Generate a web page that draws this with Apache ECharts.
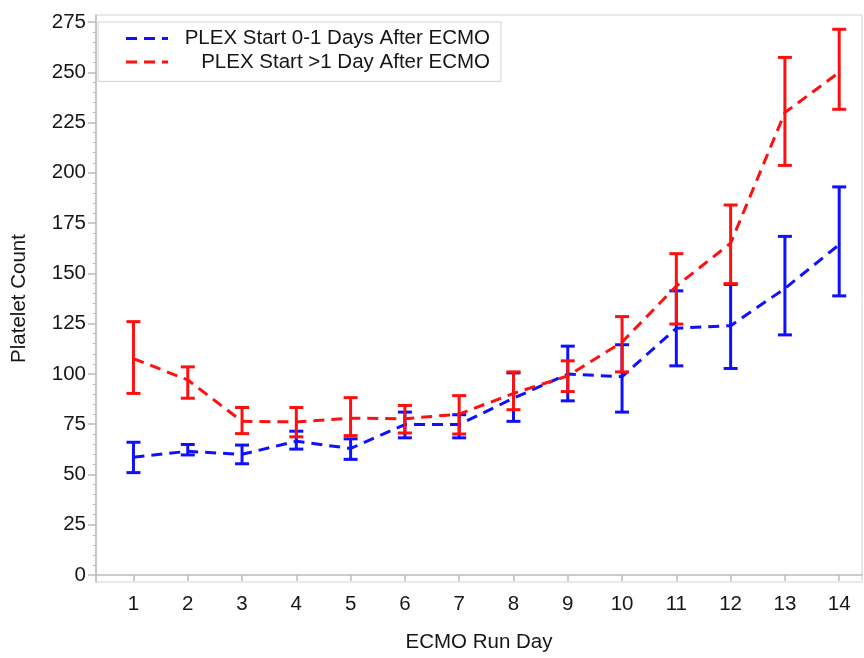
<!DOCTYPE html>
<html>
<head>
<meta charset="utf-8">
<script src="https://cdn.jsdelivr.net/npm/echarts@6/dist/echarts.min.js"></script>
<style>html,body{margin:0;padding:0;background:#fff}#c{width:864px;height:658px}</style>
</head>
<body>
<div id="c"></div>
<script>
var days = [1,2,3,4,5,6,7,8,9,10,11,12,13,14];
var seriesNames = ['PLEX Start 0-1 Days After ECMO', 'PLEX Start >1 Day After ECMO'];
var blueMean = [58.6, 61.5, 60, 66.5, 62.9, 74.8, 74.8, 87.9, 99.9, 98.6, 122.7, 124, 142.5, 164.3];
var blueLow  = [50.9, 59.7, 55.3, 62.6, 57.5, 68.2, 68.2, 76.4, 86.6, 81, 104, 102.7, 119.4, 138.8];
var blueHigh = [66, 64.9, 64.6, 71.5, 67.7, 81, 79.7, 100.5, 113.8, 114.5, 141.3, 144.5, 168.4, 193];
var redMean = [107.6, 97, 76.4, 76.1, 78, 77.7, 80, 90.3, 99, 115.8, 143.7, 165, 230, 250];
var redLow  = [90.3, 87.9, 70.3, 68.7, 69.3, 70.6, 70.1, 82.2, 91.2, 101, 124.8, 144.9, 203.7, 231.6];
var redHigh = [126, 103.5, 83.3, 83.3, 88.2, 84.3, 89.2, 101, 106.5, 128.5, 159.8, 184, 257.4, 271.4];
var yTicks = [0,25,50,75,100,125,150,175,200,225,250,275];
var yMinorTicks = [];
for (var v = 5; v < 280; v += 5) { if (v % 25 !== 0) yMinorTicks.push(v); }

var FONT = 'Liberation Sans, Arial, sans-serif';
var TXT = '#161616';
var BLUE = '#1010ff', RED = '#ff1010';
var AXIS = '#b8bcc2';
var DASH_ICON = 'path://M0,0h11v3h-11z M18,0h11v3h-11z M36,0h6v3h-6z';

function lineData(means){ return days.map(function(d,i){ return [d, means[i]]; }); }
function errData(lo, hi){ return days.map(function(d,i){ return [d, lo[i], hi[i]]; }); }
function errRender(color){
  return function(params, api){
    var x = api.value(0);
    var p1 = api.coord([x, api.value(1)]);
    var p2 = api.coord([x, api.value(2)]);
    var hw = 7;
    var st = {stroke: color, lineWidth: 3};
    return {type:'group', children:[
      {type:'line', shape:{x1:p1[0], y1:p1[1], x2:p2[0], y2:p2[1]}, style:st},
      {type:'line', shape:{x1:p1[0]-hw, y1:p1[1], x2:p1[0]+hw, y2:p1[1]}, style:st},
      {type:'line', shape:{x1:p2[0]-hw, y1:p2[1], x2:p2[0]+hw, y2:p2[1]}, style:st}
    ]};
  };
}

var chart = echarts.init(document.getElementById('c'), null, {renderer:'canvas'});
chart.setOption({
  animation:false,
  backgroundColor:'#fff',
  textStyle:{fontFamily:FONT},
  grid:{left:96, top:15, right:2, bottom:71, show:true, borderColor:'#cfd2d6', borderWidth:1},
  legend:{
    orient:'vertical', left:98, top:22,
    data:[{name:seriesNames[0], icon:DASH_ICON, itemStyle:{color:BLUE}},
          {name:seriesNames[1], icon:DASH_ICON, itemStyle:{color:RED}}],
    itemWidth:42, itemHeight:3, itemGap:0.4,
    padding:[5,11,8,28],
    borderColor:'#cfd2d6', borderWidth:1,
    formatter:function(n){ return '{r|' + n + '}'; },
    textStyle:{fontFamily:FONT, fontSize:20.5, color:TXT,
      rich:{r:{fontFamily:FONT, fontSize:20.5, color:TXT, width:317, height:23, align:'right', lineHeight:23}}}
  },
  xAxis:{
    type:'value', min:0.31, max:14.42,
    name:'ECMO Run Day', nameLocation:'middle', nameGap:50,
    nameTextStyle:{fontFamily:FONT, fontSize:20.5, color:TXT},
    axisLine:{show:true, lineStyle:{color:AXIS, width:1.5}},
    axisTick:{show:true, length:6, lineStyle:{color:AXIS, width:1.5}, customValues:days},
    axisLabel:{fontFamily:FONT, fontSize:20.5, color:TXT, margin:12, customValues:days},
    splitLine:{show:false}
  },
  yAxis:[{
    type:'value', min:-3.5, max:278.5,
    name:'Platelet Count', nameLocation:'middle', nameGap:66,
    nameTextStyle:{fontFamily:FONT, fontSize:20.5, color:TXT},
    axisLine:{show:true, lineStyle:{color:AXIS, width:1.5}},
    axisTick:{show:true, length:8, lineStyle:{color:AXIS, width:1.5}, customValues:yTicks},
    axisLabel:{fontFamily:FONT, fontSize:20.5, color:TXT, margin:10, customValues:yTicks},
    splitLine:{show:false}
  },{
    type:'value', min:-3.5, max:278.5, position:'left',
    axisLine:{show:false},
    axisTick:{show:true, length:3, lineStyle:{color:AXIS, width:1}, customValues:yMinorTicks},
    axisLabel:{show:false},
    splitLine:{show:false}
  }],
  series:[
    {name:seriesNames[0], type:'line', data:lineData(blueMean), symbol:'none', color:BLUE,
     lineStyle:{color:BLUE, width:3, type:[11,7]}, z:2},
    {name:seriesNames[0]+' err', type:'custom', data:errData(blueLow, blueHigh), renderItem:errRender(BLUE), z:3},
    {name:seriesNames[1], type:'line', data:lineData(redMean), symbol:'none', color:RED,
     lineStyle:{color:RED, width:3, type:[11,7]}, z:4},
    {name:seriesNames[1]+' err', type:'custom', data:errData(redLow, redHigh), renderItem:errRender(RED), z:5}
  ]
});
</script>
</body>
</html>
